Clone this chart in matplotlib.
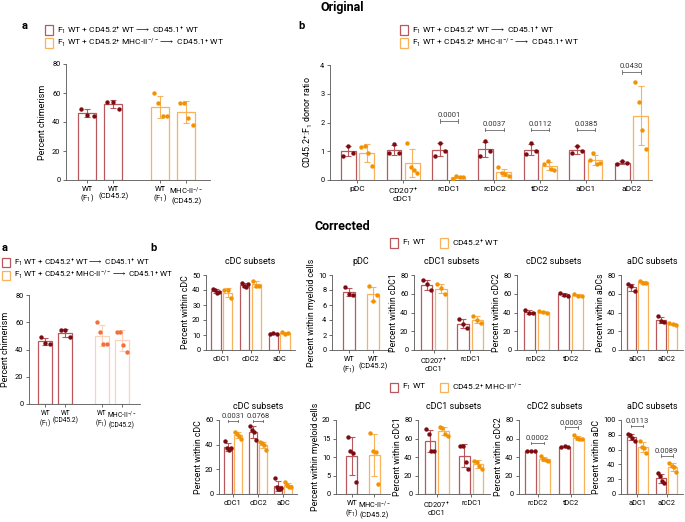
import numpy as np
import matplotlib
matplotlib.use("Agg")
import matplotlib.pyplot as plt
from matplotlib.patches import Rectangle

plt.rcParams['font.family'] = ['Roboto', 'DejaVu Sans']
plt.rcParams['font.size'] = 6
plt.rcParams['mathtext.fontset'] = 'custom'
plt.rcParams['mathtext.rm'] = 'Roboto'
plt.rcParams['mathtext.it'] = 'Roboto:italic'
plt.rcParams['mathtext.default'] = 'regular'

RED_E, RED_P = '#b8585c', '#7d0c12'
ORA_E, ORA_P = '#f9b25c', '#f39200'
PEA_E, PEA_P = '#fcd2b8', '#f2703c'

# ---- data ----
chim_labels = ['WT\n(F$_1$)', 'WT\n(CD45.2)', 'WT\n(F$_1$)', 'MHC-II$^{-/-}$\n(CD45.2)']
chim_pts = [[49, 45, 44], [54, 54, 49], [60, 53, 44, 44], [53, 53, 43, 38]]

ratio_cats = ['pDC', 'CD207$^{+}$\ncDC1', 'rcDC1', 'rcDC2', 'tDC2', 'aDC1', 'aDC2']
ratio_wt = [[0.85, 1.2, 0.95], [0.95, 1.25, 0.95], [0.85, 1.3, 1.0], [0.85, 1.35, 1.0],
            [0.9, 1.28, 1.0], [0.95, 1.2, 1.0], [0.55, 0.65, 0.6]]
ratio_ko = [[1.15, 1.17, 0.95, 0.5], [1.3, 0.45, 0.35, 0.25], [0.05, 0.15, 0.1, 0.12],
            [0.45, 0.25, 0.2, 0.15], [0.55, 0.65, 0.4, 0.35], [0.7, 0.95, 0.55, 0.6],
            [3.4, 2.73, 1.75, 1.07]]
ratio_sig = {2: ('0.0001', 2.05), 3: ('0.0037', 1.75), 4: ('0.0112', 1.75),
             5: ('0.0385', 1.75), 6: ('0.0430', 3.75)}

# corrected row 1 (CD45.2+ WT)
r1 = [
    dict(title='cDC subsets', ylabel='Percent within cDC', cats=['cDC1', 'cDC2', 'aDC'], ylim=50, step=10,
         a=[[41, 40, 38, 39], [45, 43, 42, 44], [11, 11.5, 11]], b=[[40, 40, 35], [46, 43, 43], [12, 11, 11.5]], sig={}),
    dict(title='pDC', ylabel='Percent within myeloid cells', cats=None, ylim=10, step=2,
         xl=['WT\n(F$_1$)', 'WT\n(CD45.2)'], a=[[8.4, 7.5, 7.3]], b=[[8.5, 6.6, 7.3]], sig={}),
    dict(title='cDC1 subsets', ylabel='Percent within cDC1', cats=['CD207$^{+}$\ncDC1', 'rcDC1'], ylim=80, step=20,
         a=[[75, 70, 64], [33, 28, 23]], b=[[70, 66, 60], [36, 32, 29]], sig={}),
    dict(title='cDC2 subsets', ylabel='Percent within cDC2', cats=['rcDC2', 'tDC2'], ylim=80, step=20,
         a=[[43, 39, 39], [61, 59, 58]], b=[[42, 41, 40], [60, 58, 58]], sig={}),
    dict(title='aDC subsets', ylabel='Percent within aDCs', cats=['aDC1', 'aDC2'], ylim=80, step=20,
         a=[[70, 68, 63], [36, 31, 30]], b=[[74, 72, 71], [29, 28, 27]], sig={}),
]
# corrected row 2 (CD45.2+ MHC-II-/-)
r2 = [
    dict(title='cDC subsets', ylabel='Percent within cDC', cats=['cDC1', 'cDC2', 'aDC'], ylim=60, step=20,
         a=[[43, 37, 36, 37], [55, 52, 50, 44], [13, 6, 4, 4, 5]], b=[[50, 49, 47, 45], [42, 41, 40, 36], [10, 7, 6, 6]],
         sig={0: ('0.0031', 59), 1: ('0.0768', 59)}),
    dict(title='pDC', ylabel='Percent within myeloid cells', cats=None, ylim=20, step=5,
         xl=['WT\n(F$_1$)', 'MHC-II$^{-/-}$\n(CD45.2)'], a=[[15.3, 11.5, 11, 3.2]], b=[[16.5, 11.6, 11.3, 2.8]], sig={}),
    dict(title='cDC1 subsets', ylabel='Percent within cDC1', cats=['CD207$^{+}$\ncDC1', 'rcDC1'], ylim=80, step=20,
         a=[[70, 65, 47, 47], [52, 52, 35, 27]], b=[[72, 71, 65, 63], [36, 35, 30, 27]], sig={}),
    dict(title='cDC2 subsets', ylabel='Percent within cDC2', cats=['rcDC2', 'tDC2'], ylim=80, step=20,
         a=[[47, 47, 47], [51, 52, 51]], b=[[41, 38, 37, 36], [64, 61, 59, 59]], sig={0: ('0.0002', 55), 1: ('0.0003', 72)}),
    dict(title='aDC subsets', ylabel='Percent within aDC', cats=['aDC1', 'aDC2'], ylim=100, step=20,
         a=[[81, 80, 76, 71], [28, 24, 17, 15]], b=[[72, 63, 62, 56], [42, 38, 36, 30]],
         sig={0: ('0.0113', 92), 1: ('0.0089', 52)}),
]

W, H = 685, 522
fig = plt.figure(figsize=(W / 100, H / 100), dpi=100)


def ax_px(l, t, r, b):
    return fig.add_axes([l / W, 1 - b / H, (r - l) / W, (b - t) / H])


def style(ax):
    for s in ['top', 'right']:
        ax.spines[s].set_visible(False)
    for s in ['left', 'bottom']:
        ax.spines[s].set_color('#555555')
        ax.spines[s].set_linewidth(0.6)
    ax.tick_params(length=2.5, width=0.6, color='#555555', labelsize=5.3, pad=1.5)


def bar(ax, x, pts, ec, pc, w=0.32):
    pts = np.array(pts, float)
    m, sd = pts.mean(), pts.std(ddof=1)
    ax.bar(x, m, w, facecolor='white', edgecolor=ec, linewidth=0.9, zorder=2)
    ax.errorbar(x, m, yerr=sd, color=ec, capsize=2, elinewidth=0.8, capthick=0.8, zorder=3)
    offs = np.linspace(-w * 0.35, w * 0.35, len(pts))
    ax.scatter(x + offs, pts, s=10, color=pc, zorder=4, linewidths=0)


def bracket(ax, x0, x1, y, txt, h):
    ax.plot([x0, x1], [y, y], color='#666666', lw=0.6)
    ax.plot([x0, x0], [y - h, y + h], color='#666666', lw=0.6)
    ax.plot([x1, x1], [y - h, y + h], color='#666666', lw=0.6)
    ax.text((x0 + x1) / 2, y + h * 1.6, txt, ha='center', va='bottom', fontsize=5.5, color='#333333')


def legend_box(x, y, color, text, fs=6):
    fig.patches.append(Rectangle((x / W, 1 - (y + 4.5) / H), 8 / W, 9 / H, transform=fig.transFigure,
                                 facecolor='white', edgecolor=color, lw=0.9))
    fig.text((x + 12) / W, 1 - y / H, text, va='center', ha='left', fontsize=fs)


def chim_panel(ax, e2, p2, fs):
    pos = [0, 0.55, 1.55, 2.1]
    for i, p in enumerate(chim_pts):
        bar(ax, pos[i], p, RED_E if i < 2 else e2, RED_P if i < 2 else p2, w=0.38)
    ax.set_xticks(pos)
    ax.set_xticklabels(chim_labels, fontsize=fs, linespacing=1.1)
    ax.set_xlim(-0.45, 2.6)
    ax.set_ylim(0, 80)
    ax.set_yticks(range(0, 81, 20))
    ax.set_ylabel('Percent chimerism', fontsize=6.5)
    style(ax)
    ax.tick_params(axis='x', labelsize=fs)


arrow1 = r'F$_1$ WT + CD45.2$^{+}$ WT$\longrightarrow$ CD45.1$^{+}$ WT'
arrow2 = r'F$_1$ WT + CD45.2$^{+}$ MHC-II$^{-/-}$$\longrightarrow$ CD45.1$^{+}$ WT'

# ---- Original ----
fig.text(342 / W, 1 - 8 / H, 'Original', ha='center', va='center', fontsize=9, fontweight='bold')
fig.text(22 / W, 1 - 26 / H, 'a', fontsize=8, fontweight='bold', va='center')
fig.text(298 / W, 1 - 26 / H, 'b', fontsize=8, fontweight='bold', va='center')
legend_box(45, 30, RED_E, arrow1)
legend_box(45, 43, ORA_E, arrow2)
legend_box(400, 30, RED_E, arrow1)
legend_box(400, 43, ORA_E, arrow2)

ax = ax_px(66, 64, 210, 180)
chim_panel(ax, ORA_E, ORA_P, 5.5)

ax = ax_px(330, 65, 652, 180)
for i in range(len(ratio_cats)):
    bar(ax, i - 0.2, ratio_wt[i], RED_E, RED_P)
    bar(ax, i + 0.2, ratio_ko[i], ORA_E, ORA_P)
for i, (t, y) in ratio_sig.items():
    bracket(ax, i - 0.2, i + 0.2, y, t, 0.06)
ax.set_xticks(range(len(ratio_cats)))
ax.set_xticklabels(ratio_cats, fontsize=6, linespacing=1.1)
ax.set_xlim(-0.6, 6.45)
ax.set_ylim(0, 4)
ax.set_yticks(range(5))
ax.set_ylabel('CD45.2$^{+}$:F$_1$ donor ratio', fontsize=6.5)
style(ax)
ax.tick_params(axis='x', labelsize=6)

# ---- Corrected ----
fig.text(342 / W, 1 - 226 / H, 'Corrected', ha='center', va='center', fontsize=9, fontweight='bold')
fig.text(2 / W, 1 - 248 / H, 'a', fontsize=8, fontweight='bold', va='center')
fig.text(150 / W, 1 - 248 / H, 'b', fontsize=8, fontweight='bold', va='center')
legend_box(2, 262, RED_E, arrow1, fs=5.8)
legend_box(2, 275, ORA_E, arrow2, fs=5.8)
legend_box(390, 243, RED_E, r'F$_1$ WT')
legend_box(440, 243, ORA_E, r'CD45.2$^{+}$ WT')
legend_box(390, 387, RED_E, r'F$_1$ WT')
legend_box(440, 387, ORA_E, r'CD45.2$^{+}$ MHC-II$^{-/-}$')

ax = ax_px(29, 295, 140, 404)
chim_panel(ax, PEA_E, PEA_P, 4.8)

xs1 = [(206, 295), (332, 390), (414, 490), (517, 590), (621, 683)]
xs2 = [(219, 297), (336, 390), (418, 490), (519, 590), (621, 683)]


def row(panels, xs, top, bot):
    for p, (l, r) in zip(panels, xs):
        ax = ax_px(l, top, r, bot)
        if p['cats'] is None:
            bar(ax, 0, p['a'][0], RED_E, RED_P, w=0.5)
            bar(ax, 1, p['b'][0], ORA_E, ORA_P, w=0.5)
            ax.set_xticks([0, 1])
            ax.set_xticklabels(p['xl'], linespacing=1.1)
            ax.set_xlim(-0.7, 1.7)
        else:
            n = len(p['cats'])
            for i in range(n):
                bar(ax, i - 0.2, p['a'][i], RED_E, RED_P)
                bar(ax, i + 0.2, p['b'][i], ORA_E, ORA_P)
            for i, (t, y) in p['sig'].items():
                bracket(ax, i - 0.2, i + 0.2, y, t, p['ylim'] * 0.015)
            ax.set_xticks(range(n))
            ax.set_xticklabels(p['cats'], linespacing=1.1)
            ax.set_xlim(-0.55, n - 0.45)
        ax.set_ylim(0, p['ylim'])
        ax.set_yticks(np.arange(0, p['ylim'] + 0.1, p['step']))
        ax.set_ylabel(p['ylabel'], fontsize=6.3, labelpad=1.5)
        ax.set_title(p['title'], fontsize=6.5, pad=8)
        style(ax)


row(r1, xs1, 275, 350)
row(r2, xs2, 420, 494)

fig.savefig('out.png', dpi=100)
